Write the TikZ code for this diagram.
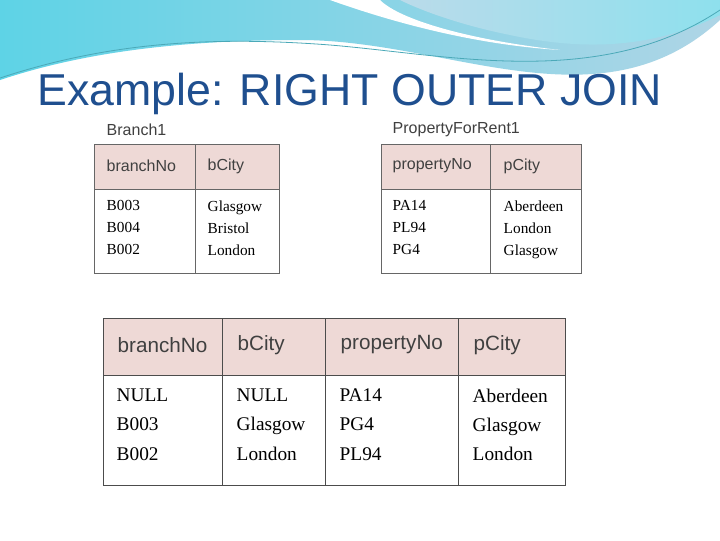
\documentclass[tikz,border=0pt]{standalone}
\usepackage{fontspec}
\setmainfont{Liberation Serif}
\setsansfont{Liberation Sans}
\definecolor{titleblue}{HTML}{1F4F8F}
\definecolor{headpink}{HTML}{EED9D6}
\definecolor{swcyan}{HTML}{5ED3E6}
\definecolor{swblue}{HTML}{8CC3DC}
\tikzset{
  hd/.style={anchor=west, font=\sffamily\fontsize{12}{12}\selectfont, text=black!75},
  dt/.style={anchor=north west, align=left, font=\fontsize{11.5}{16.5}\selectfont},
  bighd/.style={anchor=west, font=\sffamily\fontsize{15.5}{15.5}\selectfont, text=black!75},
  bigdt/.style={anchor=north west, align=left, font=\fontsize{14.5}{22}\selectfont},
  tcap/.style={anchor=west, font=\sffamily\fontsize{12}{12}\selectfont, text=black!75}
}
\begin{document}
\begin{tikzpicture}[x=0.75pt,y=-0.75pt]
  \useasboundingbox (0,0) rectangle (720,540);
  \fill[white] (0,0) rectangle (720,540);
  % top swoosh
  \shade[left color=swcyan, right color=swblue!70] (0,0) -- (720,0) -- (720,20)
    .. controls (600,130) and (450,40) .. (300,40)
    .. controls (150,40) and (60,60) .. (0,80) -- cycle;
  \fill[white] (330,0) .. controls (400,25) and (480,45) .. (560,50)
    .. controls (470,40) and (400,20) .. (380,0) -- cycle;
  \shade[left color=swblue!60, right color=swcyan!70] (400,0) -- (720,0) -- (720,15)
    .. controls (650,50) and (580,50) .. (510,35) .. controls (460,25) and (420,10) .. (400,0) -- cycle;
  \draw[swcyan!80!black, line width=0.6pt] (0,78) .. controls (100,45) and (200,35) .. (330,45)
    .. controls (450,55) and (600,90) .. (720,10);
  % title
  \node[anchor=base west, inner sep=0pt, font=\sffamily\fontsize{33.5}{33.5}\selectfont, text=titleblue] (title) at (37,105) {Example: RIGHT OUTER JOIN};
  % Branch1
  \node[tcap] (b1cap) at (102,130) {Branch1};
  \fill[headpink] (94,144) rectangle (279,189);
  \draw[black!60] (94,144) rectangle (279,273) (94,189) -- (279,189) (195,144) -- (195,273);
  \node[hd] (b1h1) at (102,166) {branchNo};
  \node[hd] (b1h2) at (203,166) {bCity};
  \node[dt] (b1c1) at (102,196) {B003\\B004\\B002};
  \node[dt] (b1c2) at (203,196) {Glasgow\\Bristol\\London};
  % PropertyForRent1
  \node[tcap] (p1cap) at (388,130) {PropertyForRent1};
  \fill[headpink] (381,144) rectangle (581,189);
  \draw[black!60] (381,144) rectangle (581,273) (381,189) -- (581,189) (490,144) -- (490,273);
  \node[hd] (p1h1) at (388,166) {propertyNo};
  \node[hd] (p1h2) at (499,166) {pCity};
  \node[dt] (p1c1) at (388,196) {PA14\\PL94\\PG4};
  \node[dt] (p1c2) at (499,196) {Aberdeen\\London\\Glasgow};
  % result
  \fill[headpink] (103,318) rectangle (565,375);
  \draw[black!70] (103,318) rectangle (565,485) (103,375) -- (565,375);
  \foreach \cx in {222,325,458} \draw[black!70] (\cx,318) -- (\cx,485);
  \node[bighd] (rh1) at (113,345) {branchNo};
  \node[bighd] (rh2) at (233,345) {bCity};
  \node[bighd] (rh3) at (336,345) {propertyNo};
  \node[bighd] (rh4) at (469,345) {pCity};
  \node[bigdt] (rc1) at (112,384) {NULL\\B003\\B002};
  \node[bigdt] (rc2) at (232,384) {NULL\\Glasgow\\London};
  \node[bigdt] (rc3) at (335,384) {PA14\\PG4\\PL94};
  \node[bigdt] (rc4) at (468,384) {Aberdeen\\Glasgow\\London};
\end{tikzpicture}
\end{document}
